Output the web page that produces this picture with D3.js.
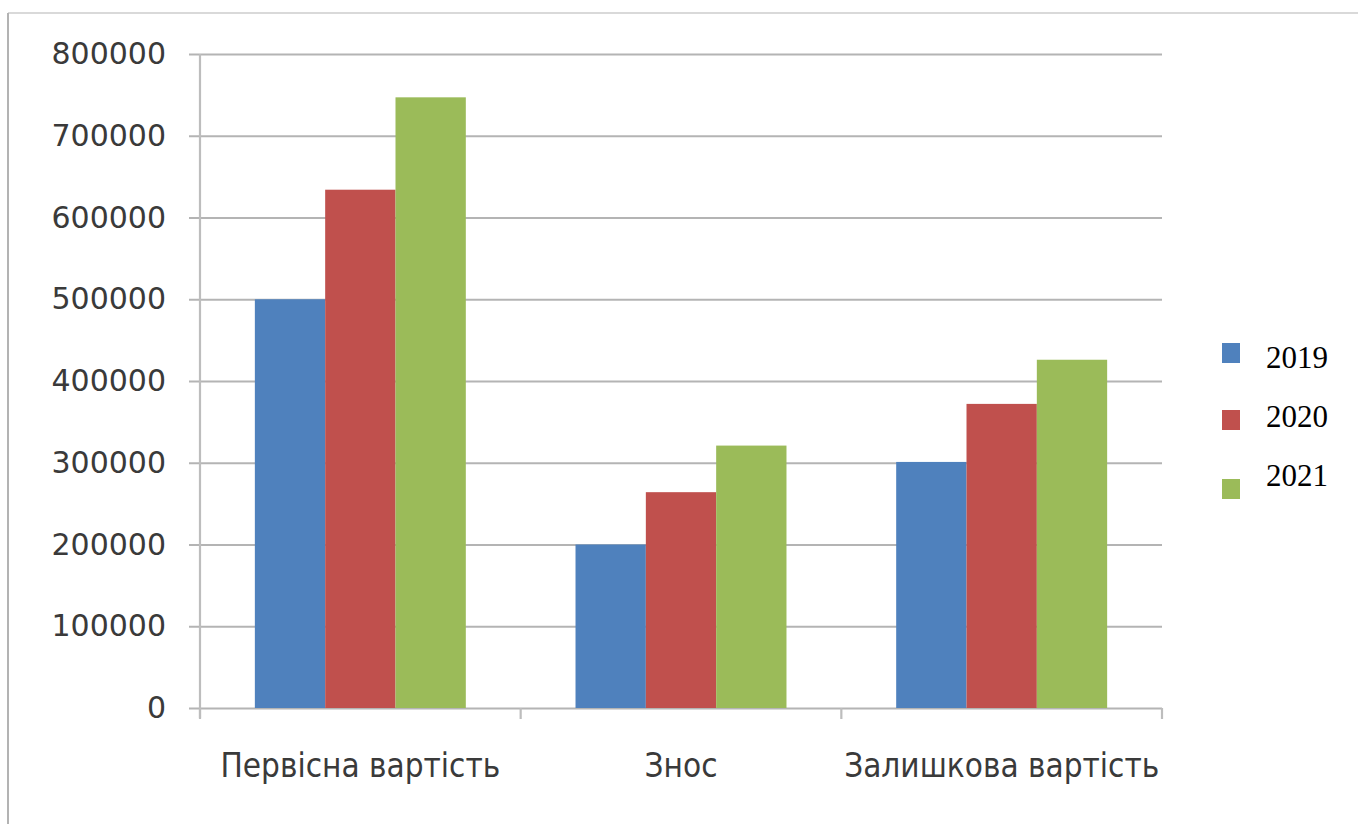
<!DOCTYPE html>
<html>
<head>
<meta charset="utf-8">
<script src="https://cdn.jsdelivr.net/npm/d3@7"></script>
<style>
  html, body { margin: 0; padding: 0; background: #fff; }
  svg { display: block; }
</style>
</head>
<body>
<svg id="chart" width="1358" height="824"></svg>
<script>
// Основні засоби: первісна вартість, знос і залишкова вартість за роками
const categories = ["Первісна вартість", "Знос", "Залишкова вартість"];
const years = ["2019", "2020", "2021"];
const values2019 = [500000, 200000, 301000];
const values2020 = [634000, 264000, 372000];
const values2021 = [747000, 321000, 426000];
const yTicks = [0, 100000, 200000, 300000, 400000, 500000, 600000, 700000, 800000];
const colors = ["#4f81bd", "#c0504d", "#9bbb59"];

const seriesValues = [values2019, values2020, values2021];
const rows = categories.map((c, i) => ({
  category: c,
  values: years.map((y, j) => ({ year: y, value: seriesValues[j][i] }))
}));

const svg = d3.select("#chart");

// Chart frame (top and left edges)
svg.append("line").attr("x1", 8).attr("x2", 1358).attr("y1", 13).attr("y2", 13)
  .attr("stroke", "#d9d9d9").attr("stroke-width", 2);
svg.append("line").attr("x1", 8).attr("x2", 8).attr("y1", 13).attr("y2", 824)
  .attr("stroke", "#b3b3b3").attr("stroke-width", 2);

const plot = { left: 200, right: 1162, top: 54, bottom: 708 };

const y = d3.scaleLinear().domain([0, 800000]).range([plot.bottom, plot.top]);
const x0 = d3.scaleBand().domain(categories).range([plot.left, plot.right]).padding(0);
const x1 = d3.scaleBand().domain(years).range([0, x0.bandwidth()]).paddingInner(0).paddingOuter(0.78);
const color = d3.scaleOrdinal().domain(years).range(colors);

// Horizontal gridlines with ticks on the left
const yAxis = d3.axisLeft(y).tickValues(yTicks).tickSize(-(plot.right - plot.left)).tickSizeOuter(0)
  .tickPadding(34).tickFormat(d3.format("d"));
const gy = svg.append("g").attr("transform", `translate(${plot.left},0)`).call(yAxis);
gy.select(".domain").remove();
gy.selectAll(".tick line").attr("stroke", "#b4b4b4").attr("stroke-width", 2.2).attr("x1", -11);
gy.selectAll(".tick text")
  .attr("font-family", "'DejaVu Sans', Verdana, sans-serif")
  .attr("font-size", 30)
  .attr("fill", "#3a3a3a");

// Vertical axis line
svg.append("line").attr("x1", plot.left).attr("x2", plot.left)
  .attr("y1", plot.top).attr("y2", plot.bottom + 10)
  .attr("stroke", "#bdbdbd").attr("stroke-width", 2.2);

// Bars
const groups = svg.append("g").selectAll("g").data(rows).join("g")
  .attr("transform", d => `translate(${x0(d.category)},0)`);
groups.selectAll("rect").data(d => d.values).join("rect")
  .attr("x", d => x1(d.year))
  .attr("width", x1.bandwidth())
  .attr("y", d => y(d.value))
  .attr("height", d => y(0) - y(d.value))
  .attr("fill", d => color(d.year));

// Category axis with tick marks between groups
const xAxis = d3.axisBottom(x0).tickSize(0).tickPadding(46);
const gx = svg.append("g").attr("transform", `translate(0,${plot.bottom})`).call(xAxis);
gx.select(".domain").remove();
gx.selectAll(".tick text")
  .attr("font-family", "'DejaVu Sans Condensed', 'DejaVu Sans', sans-serif")
  .attr("font-size", 33)
  .attr("fill", "#3a3a3a");
const dividers = [plot.left, ...categories.map(c => x0(c) + x0.bandwidth())];
svg.append("g").selectAll("line").data(dividers).join("line")
  .attr("x1", d => d).attr("x2", d => d)
  .attr("y1", plot.bottom).attr("y2", plot.bottom + 11)
  .attr("stroke", "#bdbdbd").attr("stroke-width", 2.2);

// Legend
const legendSquareY = [343, 410, 479];
const legendTextY = [368, 427, 486];
const legend = svg.append("g");
years.forEach((yr, i) => {
  legend.append("rect").attr("x", 1222).attr("y", legendSquareY[i])
    .attr("width", 18).attr("height", 20).attr("fill", color(yr));
  legend.append("text").attr("x", 1266).attr("y", legendTextY[i])
    .attr("font-family", "'Liberation Serif', 'Times New Roman', serif")
    .attr("font-size", 31).attr("fill", "#000").text(yr);
});
</script>
</body>
</html>
